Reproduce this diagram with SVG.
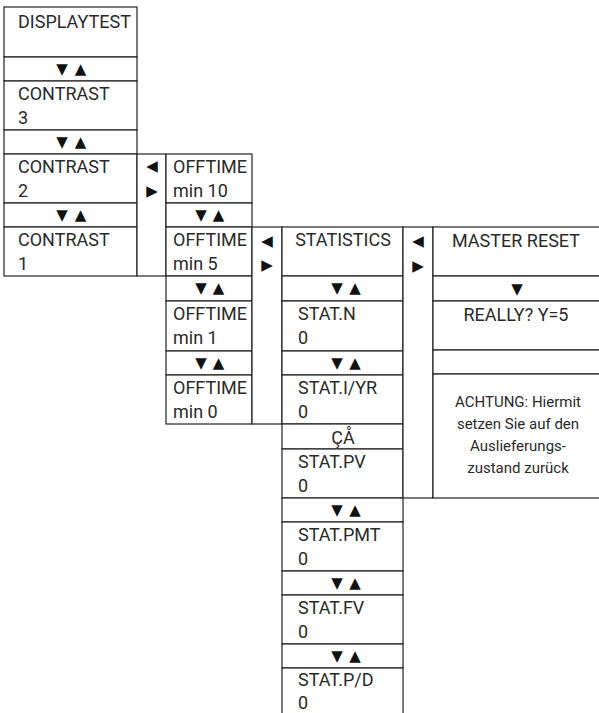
<svg xmlns="http://www.w3.org/2000/svg" width="599" height="713" viewBox="0 0 599 713">
<style>
rect{fill:#fff;stroke:#222;stroke-width:1.2}
text{font-family:Roboto,"Liberation Sans",sans-serif;font-size:18px;fill:#2a2a2a}
.c{text-anchor:middle}
.s{font-size:15px}
.a{font-family:"DejaVu Sans",sans-serif;font-size:15px;text-anchor:middle;fill:#111}
</style>
<rect x="0" y="0" width="599" height="713" style="stroke:none"/>
<g id="col1">
<g id="displaytest"><rect x="4" y="7" width="133" height="50"/><text x="18" y="28">DISPLAYTEST</text></g>
<g id="c1a1"><rect x="4" y="57" width="133" height="24"/><text class="a" x="62" y="74">▼</text><text class="a" x="80.5" y="74">▲</text></g>
<g id="contrast3"><rect x="4" y="81" width="133" height="49"/><text x="18" y="100">CONTRAST</text><text x="18" y="124">3</text></g>
<g id="c1a2"><rect x="4" y="130" width="133" height="24"/><text class="a" x="62" y="147">▼</text><text class="a" x="80.5" y="147">▲</text></g>
<g id="contrast2"><rect x="4" y="154" width="133" height="49"/><text x="18" y="173">CONTRAST</text><text x="18" y="197">2</text></g>
<g id="c1a3"><rect x="4" y="203" width="133" height="24"/><text class="a" x="62" y="220">▼</text><text class="a" x="80.5" y="220">▲</text></g>
<g id="contrast1"><rect x="4" y="227" width="133" height="49"/><text x="18" y="246">CONTRAST</text><text x="18" y="270">1</text></g>
</g>
<g id="lr1"><rect x="137" y="154" width="29" height="122"/><text class="a" x="152" y="171">◀</text><text class="a" x="152" y="196">▶</text></g>
<g id="col2">
<g id="off10"><rect x="166" y="154" width="86" height="49"/><text x="173" y="173">OFFTIME</text><text x="173" y="197">min 10</text></g>
<g id="c2a1"><rect x="166" y="203" width="86" height="24"/><text class="a" x="201" y="220">▼</text><text class="a" x="218.5" y="220">▲</text></g>
<g id="off5"><rect x="166" y="227" width="86" height="49"/><text x="173" y="246">OFFTIME</text><text x="173" y="270">min 5</text></g>
<g id="c2a2"><rect x="166" y="276" width="86" height="25"/><text class="a" x="201" y="293">▼</text><text class="a" x="218.5" y="293">▲</text></g>
<g id="off1"><rect x="166" y="301" width="86" height="50"/><text x="173" y="320">OFFTIME</text><text x="173" y="344">min 1</text></g>
<g id="c2a3"><rect x="166" y="351" width="86" height="24"/><text class="a" x="201" y="368">▼</text><text class="a" x="218.5" y="368">▲</text></g>
<g id="off0"><rect x="166" y="375" width="86" height="49"/><text x="173" y="394">OFFTIME</text><text x="173" y="418">min 0</text></g>
</g>
<g id="lr2"><rect x="252" y="227" width="30" height="197"/><text class="a" x="267" y="246">◀</text><text class="a" x="267" y="270">▶</text></g>
<g id="col3">
<g id="statistics"><rect x="282" y="227" width="121" height="49"/><text class="c" x="343" y="246">STATISTICS</text></g>
<g id="c3a1"><rect x="282" y="276" width="121" height="25"/><text class="a" x="337" y="293">▼</text><text class="a" x="355" y="293">▲</text></g>
<g id="statn"><rect x="282" y="301" width="121" height="50"/><text x="298" y="320">STAT.N</text><text x="298" y="344">0</text></g>
<g id="c3a2"><rect x="282" y="351" width="121" height="24"/><text class="a" x="337" y="368">▼</text><text class="a" x="355" y="368">▲</text></g>
<g id="statiyr"><rect x="282" y="375" width="121" height="49"/><text x="298" y="394">STAT.I/YR</text><text x="298" y="418">0</text></g>
<g id="c3a3"><rect x="282" y="424" width="121" height="25"/><text class="c" x="343" y="444">ÇÅ</text></g>
<g id="statpv"><rect x="282" y="449" width="121" height="49"/><text x="298" y="468">STAT.PV</text><text x="298" y="492">0</text></g>
<g id="c3a4"><rect x="282" y="498" width="121" height="24"/><text class="a" x="337" y="515">▼</text><text class="a" x="355" y="515">▲</text></g>
<g id="statpmt"><rect x="282" y="522" width="121" height="49"/><text x="298" y="541">STAT.PMT</text><text x="298" y="565">0</text></g>
<g id="c3a5"><rect x="282" y="571" width="121" height="24"/><text class="a" x="337" y="588">▼</text><text class="a" x="355" y="588">▲</text></g>
<g id="statfv"><rect x="282" y="595" width="121" height="49"/><text x="298" y="614">STAT.FV</text><text x="298" y="638">0</text></g>
<g id="c3a6"><rect x="282" y="644" width="121" height="24"/><text class="a" x="337" y="661">▼</text><text class="a" x="355" y="661">▲</text></g>
<g id="statpd"><rect x="282" y="668" width="121" height="60"/><text x="298" y="686">STAT.P/D</text><text x="298" y="709">0</text></g>
</g>
<g id="lr3"><rect x="403" y="227" width="30" height="271"/><text class="a" x="418" y="246">◀</text><text class="a" x="418" y="271">▶</text></g>
<g id="col4">
<g id="masterreset"><rect x="433" y="227" width="170" height="49"/><text class="c" x="516" y="247">MASTER RESET</text></g>
<g id="c4a1"><rect x="433" y="276" width="170" height="25"/><text class="a" x="517" y="294">▼</text></g>
<g id="really"><rect x="433" y="301" width="170" height="49"/><text class="c" x="516" y="321">REALLY? Y=5</text></g>
<g id="c4e"><rect x="433" y="350" width="170" height="24"/></g>
<g id="achtung"><rect x="433" y="374" width="170" height="124"/>
<text class="c s" x="518" y="407">ACHTUNG: Hiermit</text>
<text class="c s" x="518" y="429">setzen Sie auf den</text>
<text class="c s" x="518" y="451">Auslieferungs-</text>
<text class="c s" x="518" y="473">zustand zurück</text></g>
</g>
<g id="connectors"></g>
</svg>
